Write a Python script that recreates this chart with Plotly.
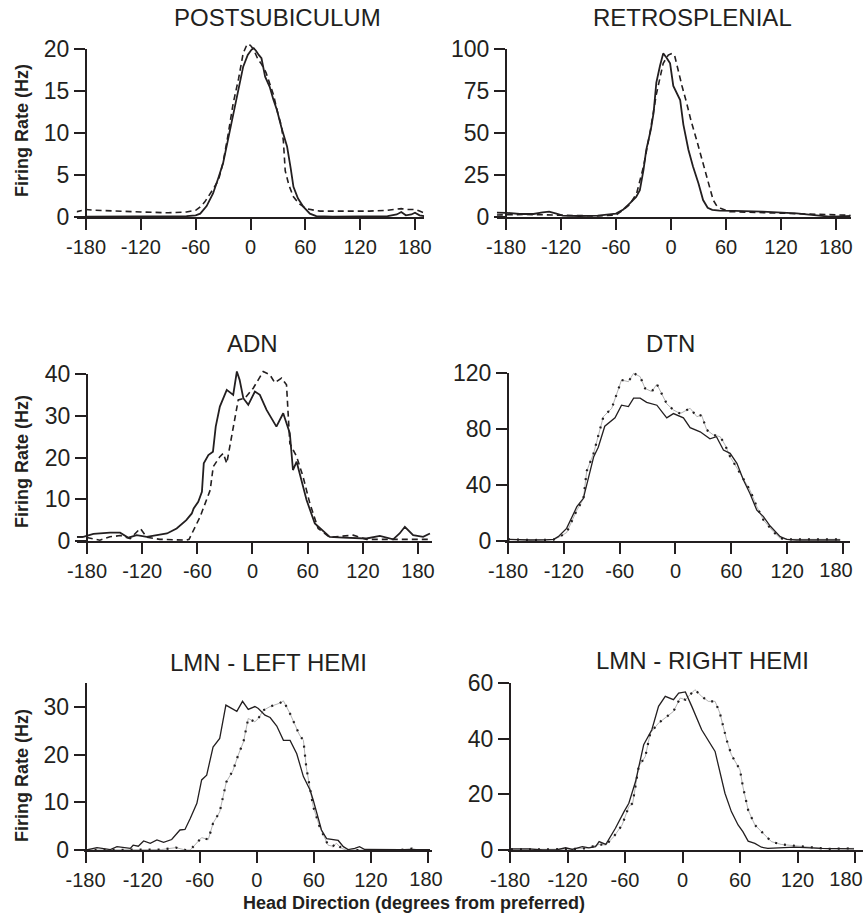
import plotly.graph_objects as go

W, H = 865, 922

# ---------------- DATA ----------------
x_ticks = [-180, -120, -60, 0, 60, 120, 180]

post_solid_x = [-180, -150, -120, -90, -70, -60, -55, -48, -41, -35, -30, -25, -19, -13, -8, -3, 1, 3.5, 6, 9, 12, 16, 21, 25, 29, 34, 40, 44, 47, 52, 58, 65, 72, 90, 120, 150, 160, 165, 170, 176, 180, 185, 190]
post_solid_y = [0.05, 0.05, 0.05, 0.05, 0.1, 0.2, 0.4, 1.3, 2.8, 4.7, 6.4, 9, 12.3, 15.3, 17.9, 19.3, 19.9, 20.1, 19.8, 19.3, 18.9, 16.7, 15.5, 14, 12.7, 10.6, 8.4, 5.8, 3.6, 2.2, 1.2, 0.4, 0.1, 0.05, 0.05, 0.1, 0.3, 0.6, 0.2, 0.3, 0.5, 0.2, 0.1]
post_dash_x = [-191, -180, -170, -150, -120, -90, -70, -60, -55, -50, -46, -41, -35, -30, -25, -19, -13, -8, -4, -2, 1, 4, 8, 12, 17, 21, 25, 30, 34, 36, 38, 42, 47, 53, 61, 70, 76, 100, 130, 150, 160, 165, 170, 180, 185, 190]
post_dash_y = [0.6, 0.9, 0.8, 0.7, 0.6, 0.5, 0.6, 0.8, 1.2, 1.8, 2.4, 3.3, 4.4, 6.5, 9.5, 13.5, 16.5, 19.5, 20.5, 20.6, 20.3, 19.8, 18.8, 18.2, 17.2, 15.8, 14.6, 12.3, 10.8, 9.0, 5.5, 3.8, 2.4, 1.6, 1.0, 0.8, 0.7, 0.7, 0.7, 0.8, 0.9, 1.0, 0.9, 0.9, 0.7, 0.5]

retro_solid_x = [-190, -180, -165, -150, -140, -133, -125, -118, -100, -80, -60, -52, -45, -38, -34, -30, -27, -22, -19, -16, -12, -8.5, -5, -1, 2.5, 6, 10, 13.5, 19, 24, 30, 35, 40, 45, 53, 70, 100, 137, 160, 173, 185, 196]
retro_solid_y = [2.6, 2.5, 1.8, 1.8, 2.8, 3.2, 2.0, 0.8, 0.6, 0.8, 2.0, 4.5, 8.1, 12, 16, 28, 40, 52, 62, 80, 90, 97.4, 95, 91.5, 78, 74, 69.6, 55, 40, 30, 20, 10.1, 5.5, 4.3, 3.8, 3.6, 3.2, 2.2, 1.2, 0.2, 0.4, 0.6]
retro_dash_x = [-190, -180, -160, -140, -120, -100, -80, -60, -52, -45, -37.5, -30, -23, -16, -12, -8.5, -3, 1, 4, 8, 12, 17, 22, 28, 34, 39, 43, 46, 50, 54, 64, 90, 120, 150, 180, 196]
retro_dash_y = [1.2, 1.4, 1.5, 1.3, 1.0, 0.6, 0.6, 1.2, 4.2, 7.5, 14, 30, 50, 73, 83, 91.5, 96.4, 97.4, 96, 86, 78, 68, 57, 45.8, 34, 24, 16, 10.1, 6.5, 5.2, 3.2, 2.8, 2.5, 2.0, 1.5, 1.0]

adn_solid_x = [-191, -184, -173, -155, -144, -135, -126, -115, -104, -93, -82.5, -72, -66, -64, -59, -55, -53, -48, -43, -40, -35.5, -28, -21, -17, -14, -10, -4.6, 2.6, 8, 15.3, 26, 33.4, 40.6, 44, 48, 58.8, 67.8, 84, 98.6, 124, 138.5, 153, 160, 165.7, 174.7, 185.6, 193]
adn_solid_y = [1.0, 1.0, 1.7, 2.0, 2.0, 0.8, 1.4, 1.0, 1.4, 1.8, 3.0, 5.0, 6.6, 7.8, 9.4, 11.8, 18.6, 20.6, 21.4, 27.4, 32.2, 36.2, 35.0, 40.6, 38.6, 34.2, 32.6, 35.8, 35.0, 31.4, 27.4, 30.6, 25.8, 17, 19, 9.8, 4.2, 1.0, 0.8, 0.6, 1.2, 0.4, 1.8, 3.4, 1.4, 1.0, 1.8]
adn_dash_x = [-191, -184, -166, -155, -144, -133, -122, -115, -100.7, -72, -69, -64.4, -57, -46, -42.7, -35.5, -31.8, -28, -21, -15.5, -8.3, 0.8, 11.7, 19, 24.3, 31.6, 37, 40.6, 48, 55, 62.4, 71.4, 84, 109.5, 124, 160, 193]
adn_dash_y = [1.0, 1.0, 0.2, 1.0, 1.3, 0.6, 3.0, 0.9, 0.4, 0.2, 0.4, 2.6, 5.8, 12.2, 17.8, 20.2, 21, 18.6, 27.4, 33.8, 34.2, 36.6, 40.6, 39.8, 37.9, 39, 37.4, 23.4, 20.2, 15.4, 9.0, 3.0, 0.9, 1.4, 0.4, 0.4, 0.4]

dtn_solid_x = [-180, -170, -156, -140, -131, -126, -117, -106, -99, -88, -83, -76, -65, -58, -50.6, -45, -38, -31, -20, -13, -9.4, -2.2, 8.5, 15.7, 26.5, 37, 44, 51.5, 58.7, 66, 73, 80, 87.4, 94.5, 101.7, 112.5, 119.6, 130, 150, 177]
dtn_solid_y = [1.2, 0.9, 0.7, 0.8, 1.2, 3.1, 9, 24.5, 30.5, 60, 67, 82, 88, 97, 96, 102, 102, 99, 97, 91, 88, 91, 88, 81, 78, 73, 74.5, 65, 62.6, 55.5, 43.6, 34, 22, 17.4, 10.7, 3.1, 1.2, 0.7, 0.7, 0.7]
dtn_dot_x = [-180, -170, -156, -140, -131, -126, -117, -106, -99, -95.4, -88, -77.5, -68.5, -58, -50.6, -45, -38, -32.7, -25.5, -20, -9.4, -2.2, 5, 15.7, 23, 28, 33.6, 40.8, 48, 53.3, 58.7, 69.5, 80, 87.4, 94.5, 105, 112.5, 123, 150, 177]
dtn_dot_y = [1.2, 0.9, 0.7, 0.8, 1.0, 2.5, 6, 22, 30, 50, 62.6, 88.8, 94.8, 115, 113.8, 119.8, 117.4, 109, 106.7, 112, 98, 93.6, 91, 94.8, 88.8, 90, 79.3, 75.7, 74.5, 68.6, 60.2, 48.3, 36.4, 24.5, 15, 6.7, 1.9, 1.2, 1.2, 1.2]

lmnl_solid_x = [-179, -168, -154, -147, -133, -130, -124.6, -119, -112, -105, -98, -89.5, -80.8, -75.5, -70, -63, -58, -52.7, -46, -39, -32.5, -28.3, -21, -15, -9, -2, 1.6, 8.6, 14, 21, 28, 35, 42, 49, 56, 59.3, 63, 68, 73.4, 80, 85.6, 91, 96, 103, 108, 113.5, 130, 150, 182]
lmnl_solid_y = [0, 0.5, 0.1, 0.7, 0.35, 1.0, 0.8, 1.9, 1.4, 2.1, 1.6, 2.2, 4.2, 4.3, 6.6, 9.8, 14.7, 15.7, 21.6, 23.4, 30.4, 29.9, 29.1, 31.2, 29.5, 30.1, 29.7, 28.3, 27.8, 26.0, 23.0, 23.0, 20.2, 15.4, 12.6, 10.5, 7.7, 4.2, 2.4, 2.1, 2.0, 0.7, 0.1, 0.35, 0.7, 0.1, 0.05, 0.05, 0.05]
lmnl_dot_x = [-180, -150, -120, -100, -85, -75, -70, -63, -58, -51, -46, -39, -32, -25, -19.6, -14, -9, -2, 1.6, 6.8, 14, 24, 28, 35, 45, 49, 52, 59.3, 66, 75, 80, 83.8, 89, 94, 120, 150, 163, 170, 182]
lmnl_dot_y = [0, 0, 0, 0.1, 0.5, 0, 0, 1.4, 2.6, 2.2, 5.6, 8, 14.3, 16.7, 19.9, 22.7, 27.6, 26.9, 27.6, 29.3, 30.1, 30.8, 31.3, 28.6, 24.1, 23.0, 17.4, 9.1, 4.9, 1.0, 0.8, 1.4, 0.35, 0, 0, 0, 0.3, 0, 0]

lmnr_solid_x = [-179, -160, -146, -132, -122, -115, -104.5, -97.6, -90.7, -87, -80, -70, -61, -56, -49, -40.5, -32, -25, -18, -9.4, -4, 3, 9.7, 20, 34, 44.3, 51, 58, 63, 68.5, 75.5, 82.4, 89, 117, 144.7, 179]
lmnr_solid_y = [0.4, 0.4, 0, 0, 0.8, 0.2, 1.2, 0.8, 1.2, 3.0, 2.0, 7.8, 13.8, 16.8, 24.6, 37.8, 43.2, 51.6, 55.2, 54, 56.4, 56.8, 51.6, 43.2, 35.4, 20.4, 13.8, 9.0, 6.6, 3.2, 2.4, 1.0, 0.6, 1.0, 0.6, 0.4]
lmnr_dot_x = [-179, -150, -120, -100, -87, -80, -71.7, -63, -56, -52, -45.7, -38.8, -33.6, -25, -18, -9.4, -2.4, 3, 13, 20, 27, 34, 39, 46, 51, 60, 63, 68.5, 75.5, 86, 92.8, 103, 113.5, 131, 151.6, 179]
lmnr_dot_y = [0.2, 0.2, 0.3, 0.6, 2.0, 1.8, 4.8, 9.0, 15.6, 16.8, 30, 33.6, 42, 45.6, 47.4, 49.8, 54.6, 54, 57.6, 55.2, 53.4, 53.4, 49.2, 39.6, 34.2, 28.8, 22.8, 14.4, 9.0, 5.4, 3.0, 2.0, 1.6, 1.0, 0.4, 0.6]

titles = ["POSTSUBICULUM", "RETROSPLENIAL", "ADN", "DTN", "LMN - LEFT HEMI", "LMN - RIGHT HEMI"]
y_ticks = [[0, 5, 10, 15, 20], [0, 25, 50, 75, 100], [0, 10, 20, 30, 40],
           [0, 40, 80, 120], [0, 10, 20, 30], [0, 20, 40, 60]]
y_axis_top = [20, 100, 40, 120, 35, 60]

series = [
    (post_solid_x, post_solid_y, post_dash_x, post_dash_y),
    (retro_solid_x, retro_solid_y, retro_dash_x, retro_dash_y),
    (adn_solid_x, adn_solid_y, adn_dash_x, adn_dash_y),
    (dtn_solid_x, dtn_solid_y, dtn_dot_x, dtn_dot_y),
    (lmnl_solid_x, lmnl_solid_y, lmnl_dot_x, lmnl_dot_y),
    (lmnr_solid_x, lmnr_solid_y, lmnr_dot_x, lmnr_dot_y),
]

# ---------------- LAYOUT (pixel geometry in window coordinates) ----------------
# shift180: the last x tick label sits a little left of its tick in the original
geom = [
    dict(xl=86, xr=415, xr0=-190, xr1=190, y0=217, yt=49, dtop=21.0, style="dash", tx=277, ty=18, shift180=0),
    dict(xl=506, xr=836, xr0=-190, xr1=196, y0=217, yt=49, dtop=100, style="dash", tx=692, ty=18, shift180=0),
    dict(xl=87, xr=418, xr0=-191, xr1=195, y0=541, yt=374, dtop=41.5, style="dash", tx=252, ty=343, shift180=0),
    dict(xl=508, xr=843, xr0=-183, xr1=187, y0=541, yt=373, dtop=121, style="dot", tx=670, ty=343, shift180=7),
    dict(xl=85.6, xr=428, xr0=-182, xr1=184, y0=850, yt=683.2, dtop=35, style="dot", tx=268, ty=662, shift180=2),
    dict(xl=510, xr=855, xr0=-182, xr1=188, y0=850, yt=683, dtop=60, style="dot", tx=702, ty=660, shift180=9),
]

INK = "#231f20"
FONT = "Liberation Sans, Arial, Helvetica, sans-serif"

fig = go.Figure()
layout = dict(width=W, height=H, autosize=False,
              margin=dict(l=0, r=0, t=0, b=0, pad=0, autoexpand=False),
              paper_bgcolor="white", plot_bgcolor="rgba(0,0,0,0)",
              showlegend=False, font=dict(family=FONT, color=INK))
annotations = []

def fx(px):
    return px / W

def fy(py):
    return (H - py) / H

for i, g in enumerate(geom):
    n = i + 1
    deco = i + 7
    sx = (g["xr"] - g["xl"]) / 360.0
    left = g["xl"] + (g["xr0"] + 180) * sx
    right = g["xl"] + (g["xr1"] + 180) * sx
    sy = (g["y0"] - g["yt"]) / y_axis_top[i]
    dtop_px = g["y0"] - g["dtop"] * sy

    xa = "x" if n == 1 else f"x{n}"
    ya = "y" if n == 1 else f"y{n}"
    yd = f"y{deco}"
    xo = f"x{deco}"

    ttext = [str(v) for v in x_ticks]
    if g["shift180"]:
        ttext[-1] = ""

    xcommon = dict(range=[g["xr0"], g["xr1"]], anchor=ya, ticks="outside", ticklen=11,
                   tickwidth=2, automargin=False, ticklabeloverflow="allow",
                   showgrid=False, zeroline=False, fixedrange=True,
                   tickfont=dict(size=20, color=INK, family=FONT))
    layout[f"xaxis{n}"] = dict(
        domain=[fx(left), fx(right)], tickvals=x_ticks, ticktext=ttext, tickcolor=INK,
        showline=True, linewidth=2, linecolor=INK, **xcommon)
    if g["shift180"]:
        # overlay axis carrying only the (nudged) last tick label
        layout[f"xaxis{deco}"] = dict(
            overlaying=xa, tickvals=[x_ticks[-1]], ticktext=[str(x_ticks[-1])],
            tickcolor="rgba(0,0,0,0)", showline=False, side="bottom",
            ticklabelshift=-g["shift180"], **xcommon)
        fig.add_trace(go.Scatter(x=[None], y=[None], xaxis=xo, yaxis=ya, mode="lines",
                                 hoverinfo="skip", showlegend=False))
    layout[f"yaxis{n}"] = dict(
        domain=[fy(g["y0"]), fy(dtop_px)], range=[0, g["dtop"]], anchor=xa,
        showline=False, ticks="", showticklabels=False, showgrid=False, zeroline=False,
        automargin=False, fixedrange=True)
    layout[f"yaxis{deco}"] = dict(
        domain=[fy(g["y0"]), fy(g["yt"])], range=[0, y_axis_top[i]], anchor="free",
        position=fx(g["xl"]), side="left", automargin=False,
        ticklabeloverflow="allow",
        tickvals=y_ticks[i], ticks="outside", ticklen=11, tickwidth=2, tickcolor=INK,
        showline=True, linewidth=2, linecolor=INK,
        showgrid=False, zeroline=False, tickfont=dict(size=23, color=INK, family=FONT),
        fixedrange=True)

    sxs, sys_, dxs, dys = series[i]
    fig.add_trace(go.Scatter(x=[None], y=[None], xaxis=xa, yaxis=yd, mode="lines",
                             hoverinfo="skip", showlegend=False))
    if g["style"] == "dash":
        fig.add_trace(go.Scatter(x=dxs, y=dys, xaxis=xa, yaxis=ya, mode="lines",
                                 line=dict(color=INK, width=1.6, dash="6px,4px"),
                                 hoverinfo="skip"))
        fig.add_trace(go.Scatter(x=sxs, y=sys_, xaxis=xa, yaxis=ya, mode="lines",
                                 line=dict(color=INK, width=1.8), hoverinfo="skip"))
    else:
        fig.add_trace(go.Scatter(x=dxs, y=dys, xaxis=xa, yaxis=ya, mode="lines",
                                 line=dict(color="#a0a0a0", width=0.8),
                                 hoverinfo="skip"))
        fig.add_trace(go.Scatter(x=dxs, y=dys, xaxis=xa, yaxis=ya, mode="lines",
                                 line=dict(color=INK, width=2.2, dash="2px,7px"),
                                 hoverinfo="skip"))
        fig.add_trace(go.Scatter(x=sxs, y=sys_, xaxis=xa, yaxis=ya, mode="lines",
                                 line=dict(color=INK, width=1.3), hoverinfo="skip"))

    annotations.append(dict(text=titles[i], x=fx(g["tx"]), y=fy(g["ty"]),
                            xref="paper", yref="paper", xanchor="center", yanchor="middle",
                            showarrow=False, font=dict(size=24, color=INK, family=FONT)))

for yc in [131, 462, 776]:
    annotations.append(dict(text="<b>Firing Rate (Hz)</b>", x=fx(22), y=fy(yc),
                            xref="paper", yref="paper", xanchor="center", yanchor="middle",
                            textangle=-90, showarrow=False,
                            font=dict(size=18, color=INK, family=FONT)))

annotations.append(dict(text="<b>Head Direction (degrees from preferred)</b>",
                        x=fx(414), y=fy(903), xref="paper", yref="paper",
                        xanchor="center", yanchor="middle", showarrow=False,
                        font=dict(size=18, color=INK, family=FONT)))

layout["annotations"] = annotations
fig.update_layout(**layout)
fig.write_html("out.html", config={"responsive": False, "displayModeBar": False},
               post_script="document.body.style.margin='0px';document.body.style.padding='0px';")
